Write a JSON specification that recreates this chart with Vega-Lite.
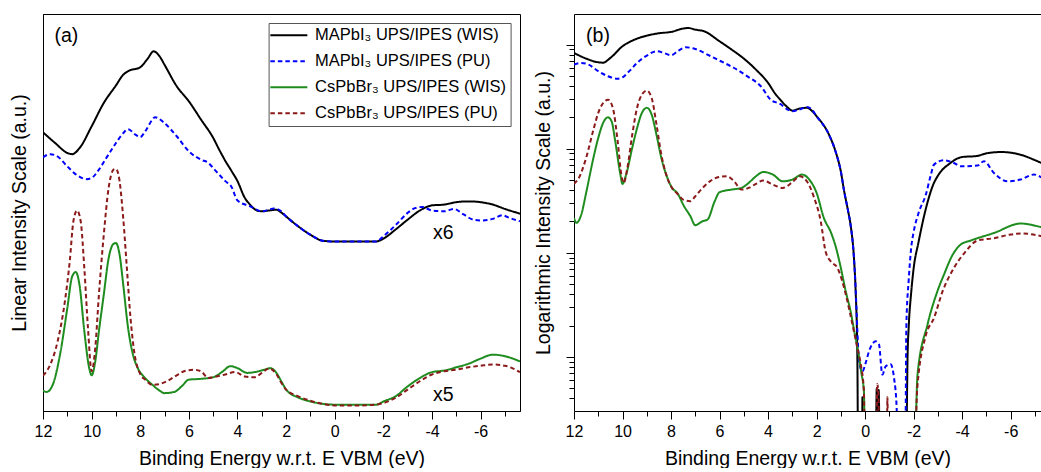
{
  "$schema": "https://vega.github.io/schema/vega-lite/v6.json",
  "padding": {"left": 8, "top": 13, "right": 0, "bottom": 0},
  "background": "white",
  "spacing": 12,
  "config": {
    "font": "Liberation Sans",
    "view": {"stroke": "black", "strokeWidth": 1},
    "axis": {"domainColor": "black", "tickColor": "black", "labelColor": "black", "titleColor": "black", "labelFontSize": 16, "titleFontSize": 19.5, "titleFontWeight": "normal", "grid": false, "labelFont": "Liberation Sans", "titleFont": "Liberation Sans"},
    "legend": {"orient": "none", "legendX": 225.6, "legendY": 9, "title": null, "symbolType": "M-3,0H3", "symbolSize": 152, "symbolStrokeWidth": 2, "labelFontSize": 16.5, "labelLimit": 400, "labelOffset": 18, "symbolOffset": 8, "padding": 4, "rowPadding": 9, "strokeColor": "#555555", "fillColor": "white", "labelColor": "black", "labelFont": "Liberation Sans"},
    "text": {"font": "Liberation Sans"}
  },
  "resolve": {"scale": {"color": "independent", "strokeDash": "independent", "x": "independent", "y": "independent"}, "legend": {"color": "independent", "strokeDash": "independent"}},
  "datasets": {
    "labA": [{"t": "(a)", "e": 11.04, "v": 92.9}, {"t": "x6", "e": -4.47, "v": 43.2}, {"t": "x5", "e": -4.47, "v": 2.44}],
    "labB": [{"t": "(b)", "e": 11.01, "v": 1069}],
    "lin": [
      {"s":"MAPbI₃ UPS/IPES (WIS)","e":12,"v":70.2},{"s":"MAPbI₃ UPS/IPES (WIS)","e":11.5,"v":67.5},{"s":"MAPbI₃ UPS/IPES (WIS)","e":11,"v":65.0},{"s":"MAPbI₃ UPS/IPES (WIS)","e":10.8,"v":64.7},{"s":"MAPbI₃ UPS/IPES (WIS)","e":10.5,"v":66.2},{"s":"MAPbI₃ UPS/IPES (WIS)","e":10,"v":71.7},{"s":"MAPbI₃ UPS/IPES (WIS)","e":9.5,"v":77.6},{"s":"MAPbI₃ UPS/IPES (WIS)","e":9,"v":82.0},{"s":"MAPbI₃ UPS/IPES (WIS)","e":8.7,"v":84.7},{"s":"MAPbI₃ UPS/IPES (WIS)","e":8.5,"v":85.6},{"s":"MAPbI₃ UPS/IPES (WIS)","e":8,"v":86.6},{"s":"MAPbI₃ UPS/IPES (WIS)","e":7.7,"v":88.7},{"s":"MAPbI₃ UPS/IPES (WIS)","e":7.45,"v":90.6},{"s":"MAPbI₃ UPS/IPES (WIS)","e":7.2,"v":89.3},{"s":"MAPbI₃ UPS/IPES (WIS)","e":7,"v":87.2},{"s":"MAPbI₃ UPS/IPES (WIS)","e":6.5,"v":81.8},{"s":"MAPbI₃ UPS/IPES (WIS)","e":6,"v":78.0},{"s":"MAPbI₃ UPS/IPES (WIS)","e":5.5,"v":73.4},{"s":"MAPbI₃ UPS/IPES (WIS)","e":5,"v":68.8},{"s":"MAPbI₃ UPS/IPES (WIS)","e":4.75,"v":65.8},{"s":"MAPbI₃ UPS/IPES (WIS)","e":4.5,"v":63.0},{"s":"MAPbI₃ UPS/IPES (WIS)","e":4.25,"v":60.5},{"s":"MAPbI₃ UPS/IPES (WIS)","e":4,"v":57.9},{"s":"MAPbI₃ UPS/IPES (WIS)","e":3.7,"v":53.7},{"s":"MAPbI₃ UPS/IPES (WIS)","e":3.5,"v":52.1},{"s":"MAPbI₃ UPS/IPES (WIS)","e":3.2,"v":50.5},{"s":"MAPbI₃ UPS/IPES (WIS)","e":3,"v":50.3},{"s":"MAPbI₃ UPS/IPES (WIS)","e":2.7,"v":50.5},{"s":"MAPbI₃ UPS/IPES (WIS)","e":2.4,"v":50.7},{"s":"MAPbI₃ UPS/IPES (WIS)","e":2.2,"v":50.0},{"s":"MAPbI₃ UPS/IPES (WIS)","e":2,"v":49.0},{"s":"MAPbI₃ UPS/IPES (WIS)","e":1.5,"v":46.5},{"s":"MAPbI₃ UPS/IPES (WIS)","e":1,"v":44.4},{"s":"MAPbI₃ UPS/IPES (WIS)","e":0.5,"v":42.9},{"s":"MAPbI₃ UPS/IPES (WIS)","e":0,"v":42.7},{"s":"MAPbI₃ UPS/IPES (WIS)","e":-1,"v":42.7},{"s":"MAPbI₃ UPS/IPES (WIS)","e":-1.7,"v":42.7},{"s":"MAPbI₃ UPS/IPES (WIS)","e":-2,"v":43.4},{"s":"MAPbI₃ UPS/IPES (WIS)","e":-2.5,"v":45.7},{"s":"MAPbI₃ UPS/IPES (WIS)","e":-3,"v":48.2},{"s":"MAPbI₃ UPS/IPES (WIS)","e":-3.5,"v":50.5},{"s":"MAPbI₃ UPS/IPES (WIS)","e":-4,"v":51.8},{"s":"MAPbI₃ UPS/IPES (WIS)","e":-4.5,"v":52.0},{"s":"MAPbI₃ UPS/IPES (WIS)","e":-5,"v":52.6},{"s":"MAPbI₃ UPS/IPES (WIS)","e":-5.5,"v":52.8},{"s":"MAPbI₃ UPS/IPES (WIS)","e":-6,"v":52.6},{"s":"MAPbI₃ UPS/IPES (WIS)","e":-6.5,"v":52.0},{"s":"MAPbI₃ UPS/IPES (WIS)","e":-7,"v":50.9},{"s":"MAPbI₃ UPS/IPES (WIS)","e":-7.62,"v":49.7},
      {"s":"MAPbI₃ UPS/IPES (PU)","e":12,"v":63.9},{"s":"MAPbI₃ UPS/IPES (PU)","e":11.7,"v":64.7},{"s":"MAPbI₃ UPS/IPES (PU)","e":11.4,"v":64.1},{"s":"MAPbI₃ UPS/IPES (PU)","e":11,"v":61.6},{"s":"MAPbI₃ UPS/IPES (PU)","e":10.6,"v":59.4},{"s":"MAPbI₃ UPS/IPES (PU)","e":10.2,"v":58.4},{"s":"MAPbI₃ UPS/IPES (PU)","e":10,"v":58.7},{"s":"MAPbI₃ UPS/IPES (PU)","e":9.7,"v":60.8},{"s":"MAPbI₃ UPS/IPES (PU)","e":9.4,"v":63.7},{"s":"MAPbI₃ UPS/IPES (PU)","e":9,"v":67.5},{"s":"MAPbI₃ UPS/IPES (PU)","e":8.7,"v":70.0},{"s":"MAPbI₃ UPS/IPES (PU)","e":8.5,"v":71.0},{"s":"MAPbI₃ UPS/IPES (PU)","e":8.2,"v":69.6},{"s":"MAPbI₃ UPS/IPES (PU)","e":8,"v":69.0},{"s":"MAPbI₃ UPS/IPES (PU)","e":7.8,"v":70.4},{"s":"MAPbI₃ UPS/IPES (PU)","e":7.5,"v":73.4},{"s":"MAPbI₃ UPS/IPES (PU)","e":7.4,"v":74.0},{"s":"MAPbI₃ UPS/IPES (PU)","e":7,"v":72.5},{"s":"MAPbI₃ UPS/IPES (PU)","e":6.5,"v":69.2},{"s":"MAPbI₃ UPS/IPES (PU)","e":6,"v":65.4},{"s":"MAPbI₃ UPS/IPES (PU)","e":5.5,"v":63.3},{"s":"MAPbI₃ UPS/IPES (PU)","e":5.2,"v":62.5},{"s":"MAPbI₃ UPS/IPES (PU)","e":5,"v":61.2},{"s":"MAPbI₃ UPS/IPES (PU)","e":4.5,"v":57.9},{"s":"MAPbI₃ UPS/IPES (PU)","e":4.25,"v":56.5},{"s":"MAPbI₃ UPS/IPES (PU)","e":4,"v":53.0},{"s":"MAPbI₃ UPS/IPES (PU)","e":3.5,"v":51.6},{"s":"MAPbI₃ UPS/IPES (PU)","e":3,"v":50.3},{"s":"MAPbI₃ UPS/IPES (PU)","e":2.5,"v":51.0},{"s":"MAPbI₃ UPS/IPES (PU)","e":2.2,"v":50.3},{"s":"MAPbI₃ UPS/IPES (PU)","e":2,"v":49.0},{"s":"MAPbI₃ UPS/IPES (PU)","e":1.5,"v":46.5},{"s":"MAPbI₃ UPS/IPES (PU)","e":1,"v":44.4},{"s":"MAPbI₃ UPS/IPES (PU)","e":0.5,"v":42.9},{"s":"MAPbI₃ UPS/IPES (PU)","e":0,"v":42.7},{"s":"MAPbI₃ UPS/IPES (PU)","e":-1,"v":42.7},{"s":"MAPbI₃ UPS/IPES (PU)","e":-1.7,"v":42.7},{"s":"MAPbI₃ UPS/IPES (PU)","e":-2,"v":44.0},{"s":"MAPbI₃ UPS/IPES (PU)","e":-2.5,"v":46.8},{"s":"MAPbI₃ UPS/IPES (PU)","e":-3,"v":49.9},{"s":"MAPbI₃ UPS/IPES (PU)","e":-3.3,"v":51.1},{"s":"MAPbI₃ UPS/IPES (PU)","e":-3.6,"v":51.4},{"s":"MAPbI₃ UPS/IPES (PU)","e":-4,"v":50.5},{"s":"MAPbI₃ UPS/IPES (PU)","e":-4.5,"v":50.3},{"s":"MAPbI₃ UPS/IPES (PU)","e":-4.9,"v":50.9},{"s":"MAPbI₃ UPS/IPES (PU)","e":-5.3,"v":49.5},{"s":"MAPbI₃ UPS/IPES (PU)","e":-5.7,"v":48.2},{"s":"MAPbI₃ UPS/IPES (PU)","e":-6,"v":48.0},{"s":"MAPbI₃ UPS/IPES (PU)","e":-6.5,"v":48.4},{"s":"MAPbI₃ UPS/IPES (PU)","e":-6.9,"v":49.3},{"s":"MAPbI₃ UPS/IPES (PU)","e":-7.2,"v":48.6},{"s":"MAPbI₃ UPS/IPES (PU)","e":-7.62,"v":47.8},
      {"s":"CsPbBr₃ UPS/IPES (WIS)","e":12,"v":5.1},{"s":"CsPbBr₃ UPS/IPES (WIS)","e":11.85,"v":4.8},{"s":"CsPbBr₃ UPS/IPES (WIS)","e":11.6,"v":6.6},{"s":"CsPbBr₃ UPS/IPES (WIS)","e":11.3,"v":14.2},{"s":"CsPbBr₃ UPS/IPES (WIS)","e":11,"v":25.9},{"s":"CsPbBr₃ UPS/IPES (WIS)","e":10.8,"v":33.9},{"s":"CsPbBr₃ UPS/IPES (WIS)","e":10.65,"v":35.0},{"s":"CsPbBr₃ UPS/IPES (WIS)","e":10.5,"v":31.8},{"s":"CsPbBr₃ UPS/IPES (WIS)","e":10.3,"v":20.1},{"s":"CsPbBr₃ UPS/IPES (WIS)","e":10.1,"v":10.8},{"s":"CsPbBr₃ UPS/IPES (WIS)","e":10,"v":9.0},{"s":"CsPbBr₃ UPS/IPES (WIS)","e":9.85,"v":12.5},{"s":"CsPbBr₃ UPS/IPES (WIS)","e":9.7,"v":20.1},{"s":"CsPbBr₃ UPS/IPES (WIS)","e":9.5,"v":29.3},{"s":"CsPbBr₃ UPS/IPES (WIS)","e":9.3,"v":38.5},{"s":"CsPbBr₃ UPS/IPES (WIS)","e":9.1,"v":42.1},{"s":"CsPbBr₃ UPS/IPES (WIS)","e":9,"v":42.3},{"s":"CsPbBr₃ UPS/IPES (WIS)","e":8.85,"v":39.4},{"s":"CsPbBr₃ UPS/IPES (WIS)","e":8.7,"v":31.8},{"s":"CsPbBr₃ UPS/IPES (WIS)","e":8.5,"v":20.9},{"s":"CsPbBr₃ UPS/IPES (WIS)","e":8.3,"v":14.2},{"s":"CsPbBr₃ UPS/IPES (WIS)","e":8.1,"v":10.8},{"s":"CsPbBr₃ UPS/IPES (WIS)","e":7.8,"v":8.3},{"s":"CsPbBr₃ UPS/IPES (WIS)","e":7.5,"v":6.6},{"s":"CsPbBr₃ UPS/IPES (WIS)","e":7.2,"v":5.1},{"s":"CsPbBr₃ UPS/IPES (WIS)","e":7,"v":4.5},{"s":"CsPbBr₃ UPS/IPES (WIS)","e":6.6,"v":4.8},{"s":"CsPbBr₃ UPS/IPES (WIS)","e":6.3,"v":6.2},{"s":"CsPbBr₃ UPS/IPES (WIS)","e":6,"v":7.9},{"s":"CsPbBr₃ UPS/IPES (WIS)","e":5.5,"v":8.1},{"s":"CsPbBr₃ UPS/IPES (WIS)","e":5,"v":8.5},{"s":"CsPbBr₃ UPS/IPES (WIS)","e":4.6,"v":10.0},{"s":"CsPbBr₃ UPS/IPES (WIS)","e":4.3,"v":11.3},{"s":"CsPbBr₃ UPS/IPES (WIS)","e":4,"v":10.8},{"s":"CsPbBr₃ UPS/IPES (WIS)","e":3.6,"v":9.6},{"s":"CsPbBr₃ UPS/IPES (WIS)","e":3.3,"v":9.8},{"s":"CsPbBr₃ UPS/IPES (WIS)","e":2.9,"v":10.4},{"s":"CsPbBr₃ UPS/IPES (WIS)","e":2.65,"v":10.8},{"s":"CsPbBr₃ UPS/IPES (WIS)","e":2.4,"v":9.6},{"s":"CsPbBr₃ UPS/IPES (WIS)","e":2.2,"v":7.5},{"s":"CsPbBr₃ UPS/IPES (WIS)","e":2,"v":5.4},{"s":"CsPbBr₃ UPS/IPES (WIS)","e":1.5,"v":3.4},{"s":"CsPbBr₃ UPS/IPES (WIS)","e":1,"v":2.4},{"s":"CsPbBr₃ UPS/IPES (WIS)","e":0.5,"v":1.8},{"s":"CsPbBr₃ UPS/IPES (WIS)","e":0,"v":1.6},{"s":"CsPbBr₃ UPS/IPES (WIS)","e":-1,"v":1.6},{"s":"CsPbBr₃ UPS/IPES (WIS)","e":-1.7,"v":1.6},{"s":"CsPbBr₃ UPS/IPES (WIS)","e":-2,"v":2.4},{"s":"CsPbBr₃ UPS/IPES (WIS)","e":-2.5,"v":3.7},{"s":"CsPbBr₃ UPS/IPES (WIS)","e":-3,"v":6.2},{"s":"CsPbBr₃ UPS/IPES (WIS)","e":-3.5,"v":8.3},{"s":"CsPbBr₃ UPS/IPES (WIS)","e":-4,"v":9.8},{"s":"CsPbBr₃ UPS/IPES (WIS)","e":-4.5,"v":10.2},{"s":"CsPbBr₃ UPS/IPES (WIS)","e":-5,"v":11.0},{"s":"CsPbBr₃ UPS/IPES (WIS)","e":-5.5,"v":11.9},{"s":"CsPbBr₃ UPS/IPES (WIS)","e":-6,"v":13.2},{"s":"CsPbBr₃ UPS/IPES (WIS)","e":-6.5,"v":14.2},{"s":"CsPbBr₃ UPS/IPES (WIS)","e":-7,"v":13.8},{"s":"CsPbBr₃ UPS/IPES (WIS)","e":-7.62,"v":12.5},
      {"s":"CsPbBr₃ UPS/IPES (PU)","e":12,"v":8.9},{"s":"CsPbBr₃ UPS/IPES (PU)","e":11.7,"v":11.7},{"s":"CsPbBr₃ UPS/IPES (PU)","e":11.4,"v":17.5},{"s":"CsPbBr₃ UPS/IPES (PU)","e":11.1,"v":27.6},{"s":"CsPbBr₃ UPS/IPES (PU)","e":10.9,"v":37.7},{"s":"CsPbBr₃ UPS/IPES (PU)","e":10.75,"v":47.8},{"s":"CsPbBr₃ UPS/IPES (PU)","e":10.6,"v":50.5},{"s":"CsPbBr₃ UPS/IPES (PU)","e":10.45,"v":47.8},{"s":"CsPbBr₃ UPS/IPES (PU)","e":10.3,"v":36.0},{"s":"CsPbBr₃ UPS/IPES (PU)","e":10.15,"v":20.9},{"s":"CsPbBr₃ UPS/IPES (PU)","e":10,"v":10.0},{"s":"CsPbBr₃ UPS/IPES (PU)","e":9.85,"v":15.9},{"s":"CsPbBr₃ UPS/IPES (PU)","e":9.7,"v":29.3},{"s":"CsPbBr₃ UPS/IPES (PU)","e":9.5,"v":44.4},{"s":"CsPbBr₃ UPS/IPES (PU)","e":9.3,"v":56.2},{"s":"CsPbBr₃ UPS/IPES (PU)","e":9.1,"v":60.8},{"s":"CsPbBr₃ UPS/IPES (PU)","e":9,"v":61.0},{"s":"CsPbBr₃ UPS/IPES (PU)","e":8.85,"v":57.9},{"s":"CsPbBr₃ UPS/IPES (PU)","e":8.7,"v":48.6},{"s":"CsPbBr₃ UPS/IPES (PU)","e":8.55,"v":36.0},{"s":"CsPbBr₃ UPS/IPES (PU)","e":8.4,"v":23.4},{"s":"CsPbBr₃ UPS/IPES (PU)","e":8.25,"v":15.0},{"s":"CsPbBr₃ UPS/IPES (PU)","e":8,"v":9.3},{"s":"CsPbBr₃ UPS/IPES (PU)","e":7.8,"v":7.9},{"s":"CsPbBr₃ UPS/IPES (PU)","e":7.5,"v":6.6},{"s":"CsPbBr₃ UPS/IPES (PU)","e":7.2,"v":6.8},{"s":"CsPbBr₃ UPS/IPES (PU)","e":6.9,"v":7.5},{"s":"CsPbBr₃ UPS/IPES (PU)","e":6.5,"v":9.0},{"s":"CsPbBr₃ UPS/IPES (PU)","e":6.2,"v":10.0},{"s":"CsPbBr₃ UPS/IPES (PU)","e":5.8,"v":10.4},{"s":"CsPbBr₃ UPS/IPES (PU)","e":5.5,"v":10.0},{"s":"CsPbBr₃ UPS/IPES (PU)","e":5.2,"v":8.3},{"s":"CsPbBr₃ UPS/IPES (PU)","e":5,"v":8.5},{"s":"CsPbBr₃ UPS/IPES (PU)","e":4.5,"v":9.2},{"s":"CsPbBr₃ UPS/IPES (PU)","e":4.1,"v":9.8},{"s":"CsPbBr₃ UPS/IPES (PU)","e":3.7,"v":8.7},{"s":"CsPbBr₃ UPS/IPES (PU)","e":3.3,"v":8.5},{"s":"CsPbBr₃ UPS/IPES (PU)","e":3,"v":9.6},{"s":"CsPbBr₃ UPS/IPES (PU)","e":2.7,"v":10.7},{"s":"CsPbBr₃ UPS/IPES (PU)","e":2.4,"v":9.3},{"s":"CsPbBr₃ UPS/IPES (PU)","e":2.2,"v":7.1},{"s":"CsPbBr₃ UPS/IPES (PU)","e":2,"v":5.4},{"s":"CsPbBr₃ UPS/IPES (PU)","e":1.5,"v":3.7},{"s":"CsPbBr₃ UPS/IPES (PU)","e":1,"v":2.6},{"s":"CsPbBr₃ UPS/IPES (PU)","e":0.5,"v":1.8},{"s":"CsPbBr₃ UPS/IPES (PU)","e":0,"v":1.4},{"s":"CsPbBr₃ UPS/IPES (PU)","e":-1,"v":1.4},{"s":"CsPbBr₃ UPS/IPES (PU)","e":-1.7,"v":1.6},{"s":"CsPbBr₃ UPS/IPES (PU)","e":-2,"v":2.0},{"s":"CsPbBr₃ UPS/IPES (PU)","e":-2.5,"v":3.3},{"s":"CsPbBr₃ UPS/IPES (PU)","e":-3,"v":5.4},{"s":"CsPbBr₃ UPS/IPES (PU)","e":-3.5,"v":7.5},{"s":"CsPbBr₃ UPS/IPES (PU)","e":-4,"v":9.2},{"s":"CsPbBr₃ UPS/IPES (PU)","e":-4.5,"v":10.0},{"s":"CsPbBr₃ UPS/IPES (PU)","e":-5,"v":10.4},{"s":"CsPbBr₃ UPS/IPES (PU)","e":-5.5,"v":11.0},{"s":"CsPbBr₃ UPS/IPES (PU)","e":-6,"v":11.4},{"s":"CsPbBr₃ UPS/IPES (PU)","e":-6.5,"v":11.7},{"s":"CsPbBr₃ UPS/IPES (PU)","e":-7,"v":11.4},{"s":"CsPbBr₃ UPS/IPES (PU)","e":-7.3,"v":10.8},{"s":"CsPbBr₃ UPS/IPES (PU)","e":-7.62,"v":9.8}
    ],
    "log": [
      {"s":"MAPbI₃ UPS/IPES (WIS)","e":12,"v":832},{"s":"MAPbI₃ UPS/IPES (WIS)","e":11.5,"v":734},{"s":"MAPbI₃ UPS/IPES (WIS)","e":11,"v":676},{"s":"MAPbI₃ UPS/IPES (WIS)","e":10.8,"v":671},{"s":"MAPbI₃ UPS/IPES (WIS)","e":10.5,"v":745},{"s":"MAPbI₃ UPS/IPES (WIS)","e":10,"v":964},{"s":"MAPbI₃ UPS/IPES (WIS)","e":9.5,"v":1117},{"s":"MAPbI₃ UPS/IPES (WIS)","e":9,"v":1219},{"s":"MAPbI₃ UPS/IPES (WIS)","e":8.5,"v":1285},{"s":"MAPbI₃ UPS/IPES (WIS)","e":8,"v":1324},{"s":"MAPbI₃ UPS/IPES (WIS)","e":7.5,"v":1426},{"s":"MAPbI₃ UPS/IPES (WIS)","e":7.3,"v":1445},{"s":"MAPbI₃ UPS/IPES (WIS)","e":7,"v":1393},{"s":"MAPbI₃ UPS/IPES (WIS)","e":6.64,"v":1343},{"s":"MAPbI₃ UPS/IPES (WIS)","e":6,"v":1076},{"s":"MAPbI₃ UPS/IPES (WIS)","e":5.5,"v":895},{"s":"MAPbI₃ UPS/IPES (WIS)","e":5,"v":734},{"s":"MAPbI₃ UPS/IPES (WIS)","e":4.5,"v":575},{"s":"MAPbI₃ UPS/IPES (WIS)","e":4,"v":429},{"s":"MAPbI₃ UPS/IPES (WIS)","e":3.7,"v":336},{"s":"MAPbI₃ UPS/IPES (WIS)","e":3.5,"v":296},{"s":"MAPbI₃ UPS/IPES (WIS)","e":3.2,"v":250},{"s":"MAPbI₃ UPS/IPES (WIS)","e":3,"v":232},{"s":"MAPbI₃ UPS/IPES (WIS)","e":2.7,"v":243},{"s":"MAPbI₃ UPS/IPES (WIS)","e":2.4,"v":247},{"s":"MAPbI₃ UPS/IPES (WIS)","e":2.2,"v":232},{"s":"MAPbI₃ UPS/IPES (WIS)","e":2,"v":205},{"s":"MAPbI₃ UPS/IPES (WIS)","e":1.5,"v":138},{"s":"MAPbI₃ UPS/IPES (WIS)","e":1.2,"v":91.2},{"s":"MAPbI₃ UPS/IPES (WIS)","e":1,"v":60.3},{"s":"MAPbI₃ UPS/IPES (WIS)","e":0.87,"v":39.8},{"s":"MAPbI₃ UPS/IPES (WIS)","e":0.7,"v":25.1},{"s":"MAPbI₃ UPS/IPES (WIS)","e":0.6,"v":18.6},{"s":"MAPbI₃ UPS/IPES (WIS)","e":0.46,"v":8.91},{"s":"MAPbI₃ UPS/IPES (WIS)","e":0.39,"v":4.27},{"s":"MAPbI₃ UPS/IPES (WIS)","e":0.32,"v":1.0},{"s":"MAPbI₃ UPS/IPES (WIS)","e":0.28,"v":0.05},{"s":"MAPbI₃ UPS/IPES (WIS)","e":0.13,"v":0.05},{"s":"MAPbI₃ UPS/IPES (WIS)","e":0.11,"v":0.41},{"s":"MAPbI₃ UPS/IPES (WIS)","e":0.09,"v":0.05},{"s":"MAPbI₃ UPS/IPES (WIS)","e":-0.42,"v":0.05},{"s":"MAPbI₃ UPS/IPES (WIS)","e":-0.48,"v":0.5},{"s":"MAPbI₃ UPS/IPES (WIS)","e":-0.52,"v":0.3},{"s":"MAPbI₃ UPS/IPES (WIS)","e":-0.56,"v":0.48},{"s":"MAPbI₃ UPS/IPES (WIS)","e":-0.62,"v":0.05},{"s":"MAPbI₃ UPS/IPES (WIS)","e":-1.68,"v":0.05},{"s":"MAPbI₃ UPS/IPES (WIS)","e":-1.72,"v":0.3},{"s":"MAPbI₃ UPS/IPES (WIS)","e":-1.75,"v":1.0},{"s":"MAPbI₃ UPS/IPES (WIS)","e":-1.8,"v":2.0},{"s":"MAPbI₃ UPS/IPES (WIS)","e":-1.9,"v":4.17},{"s":"MAPbI₃ UPS/IPES (WIS)","e":-2,"v":7.08},{"s":"MAPbI₃ UPS/IPES (WIS)","e":-2.2,"v":12.6},{"s":"MAPbI₃ UPS/IPES (WIS)","e":-2.5,"v":26.3},{"s":"MAPbI₃ UPS/IPES (WIS)","e":-2.8,"v":44.7},{"s":"MAPbI₃ UPS/IPES (WIS)","e":-3,"v":55.0},{"s":"MAPbI₃ UPS/IPES (WIS)","e":-3.5,"v":72.4},{"s":"MAPbI₃ UPS/IPES (WIS)","e":-4,"v":83.2},{"s":"MAPbI₃ UPS/IPES (WIS)","e":-4.6,"v":85.1},{"s":"MAPbI₃ UPS/IPES (WIS)","e":-5,"v":90.2},{"s":"MAPbI₃ UPS/IPES (WIS)","e":-5.6,"v":92.9},{"s":"MAPbI₃ UPS/IPES (WIS)","e":-6.4,"v":87.7},{"s":"MAPbI₃ UPS/IPES (WIS)","e":-7,"v":77.6},{"s":"MAPbI₃ UPS/IPES (WIS)","e":-7.3,"v":72.4},
      {"s":"MAPbI₃ UPS/IPES (PU)","e":12,"v":643},{"s":"MAPbI₃ UPS/IPES (PU)","e":11.7,"v":667},{"s":"MAPbI₃ UPS/IPES (PU)","e":11.4,"v":643},{"s":"MAPbI₃ UPS/IPES (PU)","e":11,"v":555},{"s":"MAPbI₃ UPS/IPES (PU)","e":10.6,"v":497},{"s":"MAPbI₃ UPS/IPES (PU)","e":10.2,"v":471},{"s":"MAPbI₃ UPS/IPES (PU)","e":10,"v":485},{"s":"MAPbI₃ UPS/IPES (PU)","e":9.7,"v":562},{"s":"MAPbI₃ UPS/IPES (PU)","e":9.4,"v":667},{"s":"MAPbI₃ UPS/IPES (PU)","e":9,"v":783},{"s":"MAPbI₃ UPS/IPES (PU)","e":8.6,"v":863},{"s":"MAPbI₃ UPS/IPES (PU)","e":8.3,"v":832},{"s":"MAPbI₃ UPS/IPES (PU)","e":8,"v":791},{"s":"MAPbI₃ UPS/IPES (PU)","e":7.7,"v":875},{"s":"MAPbI₃ UPS/IPES (PU)","e":7.4,"v":942},{"s":"MAPbI₃ UPS/IPES (PU)","e":7,"v":908},{"s":"MAPbI₃ UPS/IPES (PU)","e":6.5,"v":802},{"s":"MAPbI₃ UPS/IPES (PU)","e":6,"v":701},{"s":"MAPbI₃ UPS/IPES (PU)","e":5.4,"v":596},{"s":"MAPbI₃ UPS/IPES (PU)","e":4.85,"v":495},{"s":"MAPbI₃ UPS/IPES (PU)","e":4.3,"v":398},{"s":"MAPbI₃ UPS/IPES (PU)","e":3.89,"v":295},{"s":"MAPbI₃ UPS/IPES (PU)","e":3.5,"v":269},{"s":"MAPbI₃ UPS/IPES (PU)","e":3.2,"v":238},{"s":"MAPbI₃ UPS/IPES (PU)","e":3,"v":229},{"s":"MAPbI₃ UPS/IPES (PU)","e":2.7,"v":238},{"s":"MAPbI₃ UPS/IPES (PU)","e":2.4,"v":251},{"s":"MAPbI₃ UPS/IPES (PU)","e":2.2,"v":238},{"s":"MAPbI₃ UPS/IPES (PU)","e":2,"v":205},{"s":"MAPbI₃ UPS/IPES (PU)","e":1.5,"v":138},{"s":"MAPbI₃ UPS/IPES (PU)","e":1.2,"v":91.2},{"s":"MAPbI₃ UPS/IPES (PU)","e":1,"v":60.3},{"s":"MAPbI₃ UPS/IPES (PU)","e":0.87,"v":39.8},{"s":"MAPbI₃ UPS/IPES (PU)","e":0.7,"v":25.1},{"s":"MAPbI₃ UPS/IPES (PU)","e":0.6,"v":18.6},{"s":"MAPbI₃ UPS/IPES (PU)","e":0.46,"v":8.91},{"s":"MAPbI₃ UPS/IPES (PU)","e":0.39,"v":4.5},{"s":"MAPbI₃ UPS/IPES (PU)","e":0.32,"v":1.8},{"s":"MAPbI₃ UPS/IPES (PU)","e":0.25,"v":0.912},{"s":"MAPbI₃ UPS/IPES (PU)","e":0.11,"v":0.724},{"s":"MAPbI₃ UPS/IPES (PU)","e":-0.02,"v":0.871},{"s":"MAPbI₃ UPS/IPES (PU)","e":-0.16,"v":1.13},{"s":"MAPbI₃ UPS/IPES (PU)","e":-0.44,"v":1.41},{"s":"MAPbI₃ UPS/IPES (PU)","e":-0.57,"v":1.32},{"s":"MAPbI₃ UPS/IPES (PU)","e":-0.71,"v":0.676},{"s":"MAPbI₃ UPS/IPES (PU)","e":-0.85,"v":0.813},{"s":"MAPbI₃ UPS/IPES (PU)","e":-1.05,"v":0.851},{"s":"MAPbI₃ UPS/IPES (PU)","e":-1.19,"v":0.631},{"s":"MAPbI₃ UPS/IPES (PU)","e":-1.3,"v":0.324},{"s":"MAPbI₃ UPS/IPES (PU)","e":-1.36,"v":0.05},{"s":"MAPbI₃ UPS/IPES (PU)","e":-1.62,"v":0.05},{"s":"MAPbI₃ UPS/IPES (PU)","e":-1.67,"v":0.25},{"s":"MAPbI₃ UPS/IPES (PU)","e":-1.7,"v":2.0},{"s":"MAPbI₃ UPS/IPES (PU)","e":-1.8,"v":5.62},{"s":"MAPbI₃ UPS/IPES (PU)","e":-1.9,"v":11.2},{"s":"MAPbI₃ UPS/IPES (PU)","e":-2,"v":15.8},{"s":"MAPbI₃ UPS/IPES (PU)","e":-2.2,"v":24.0},{"s":"MAPbI₃ UPS/IPES (PU)","e":-2.5,"v":36},{"s":"MAPbI₃ UPS/IPES (PU)","e":-2.7,"v":55},{"s":"MAPbI₃ UPS/IPES (PU)","e":-2.84,"v":70.3},{"s":"MAPbI₃ UPS/IPES (PU)","e":-3.25,"v":77.4},{"s":"MAPbI₃ UPS/IPES (PU)","e":-3.66,"v":72.9},{"s":"MAPbI₃ UPS/IPES (PU)","e":-3.94,"v":67.8},{"s":"MAPbI₃ UPS/IPES (PU)","e":-4.63,"v":68.9},{"s":"MAPbI₃ UPS/IPES (PU)","e":-4.9,"v":75.7},{"s":"MAPbI₃ UPS/IPES (PU)","e":-5.31,"v":58.5},{"s":"MAPbI₃ UPS/IPES (PU)","e":-5.86,"v":48.6},{"s":"MAPbI₃ UPS/IPES (PU)","e":-6.41,"v":50.5},{"s":"MAPbI₃ UPS/IPES (PU)","e":-6.96,"v":56.4},{"s":"MAPbI₃ UPS/IPES (PU)","e":-7.3,"v":52.4},
      {"s":"CsPbBr₃ UPS/IPES (WIS)","e":12,"v":21.6},{"s":"CsPbBr₃ UPS/IPES (WIS)","e":11.9,"v":19.4},{"s":"CsPbBr₃ UPS/IPES (WIS)","e":11.7,"v":23.3},{"s":"CsPbBr₃ UPS/IPES (WIS)","e":11.5,"v":37.6},{"s":"CsPbBr₃ UPS/IPES (WIS)","e":11.2,"v":81.5},{"s":"CsPbBr₃ UPS/IPES (WIS)","e":11,"v":127},{"s":"CsPbBr₃ UPS/IPES (WIS)","e":10.8,"v":177},{"s":"CsPbBr₃ UPS/IPES (WIS)","e":10.6,"v":200},{"s":"CsPbBr₃ UPS/IPES (WIS)","e":10.45,"v":183},{"s":"CsPbBr₃ UPS/IPES (WIS)","e":10.3,"v":118},{"s":"CsPbBr₃ UPS/IPES (WIS)","e":10.1,"v":58.5},{"s":"CsPbBr₃ UPS/IPES (WIS)","e":10,"v":45.9},{"s":"CsPbBr₃ UPS/IPES (WIS)","e":9.85,"v":56.4},{"s":"CsPbBr₃ UPS/IPES (WIS)","e":9.6,"v":102},{"s":"CsPbBr₃ UPS/IPES (WIS)","e":9.4,"v":158},{"s":"CsPbBr₃ UPS/IPES (WIS)","e":9.2,"v":221},{"s":"CsPbBr₃ UPS/IPES (WIS)","e":9,"v":247},{"s":"CsPbBr₃ UPS/IPES (WIS)","e":8.8,"v":213},{"s":"CsPbBr₃ UPS/IPES (WIS)","e":8.6,"v":136},{"s":"CsPbBr₃ UPS/IPES (WIS)","e":8.4,"v":81.5},{"s":"CsPbBr₃ UPS/IPES (WIS)","e":8.2,"v":56.4},{"s":"CsPbBr₃ UPS/IPES (WIS)","e":8,"v":43.6},{"s":"CsPbBr₃ UPS/IPES (WIS)","e":7.7,"v":36.2},{"s":"CsPbBr₃ UPS/IPES (WIS)","e":7.5,"v":29.0},{"s":"CsPbBr₃ UPS/IPES (WIS)","e":7.2,"v":22.4},{"s":"CsPbBr₃ UPS/IPES (WIS)","e":7,"v":18.4},{"s":"CsPbBr₃ UPS/IPES (WIS)","e":6.7,"v":20.1},{"s":"CsPbBr₃ UPS/IPES (WIS)","e":6.5,"v":20.8},{"s":"CsPbBr₃ UPS/IPES (WIS)","e":6.2,"v":31.3},{"s":"CsPbBr₃ UPS/IPES (WIS)","e":6,"v":38.2},{"s":"CsPbBr₃ UPS/IPES (WIS)","e":5.5,"v":40.5},{"s":"CsPbBr₃ UPS/IPES (WIS)","e":5.1,"v":42.0},{"s":"CsPbBr₃ UPS/IPES (WIS)","e":4.8,"v":46.9},{"s":"CsPbBr₃ UPS/IPES (WIS)","e":4.5,"v":54.3},{"s":"CsPbBr₃ UPS/IPES (WIS)","e":4.2,"v":59.8},{"s":"CsPbBr₃ UPS/IPES (WIS)","e":3.8,"v":56.4},{"s":"CsPbBr₃ UPS/IPES (WIS)","e":3.4,"v":48.6},{"s":"CsPbBr₃ UPS/IPES (WIS)","e":3,"v":50.5},{"s":"CsPbBr₃ UPS/IPES (WIS)","e":2.6,"v":56.4},{"s":"CsPbBr₃ UPS/IPES (WIS)","e":2.3,"v":50.5},{"s":"CsPbBr₃ UPS/IPES (WIS)","e":2,"v":37.6},{"s":"CsPbBr₃ UPS/IPES (WIS)","e":1.7,"v":21.6},{"s":"CsPbBr₃ UPS/IPES (WIS)","e":1.4,"v":15.5},{"s":"CsPbBr₃ UPS/IPES (WIS)","e":1.2,"v":11.2},{"s":"CsPbBr₃ UPS/IPES (WIS)","e":1,"v":7.14},{"s":"CsPbBr₃ UPS/IPES (WIS)","e":0.8,"v":4.27},{"s":"CsPbBr₃ UPS/IPES (WIS)","e":0.6,"v":2.75},{"s":"CsPbBr₃ UPS/IPES (WIS)","e":0.45,"v":1.78},{"s":"CsPbBr₃ UPS/IPES (WIS)","e":0.3,"v":1.17},{"s":"CsPbBr₃ UPS/IPES (WIS)","e":0.15,"v":0.692},{"s":"CsPbBr₃ UPS/IPES (WIS)","e":0.05,"v":0.468},{"s":"CsPbBr₃ UPS/IPES (WIS)","e":-0.02,"v":0.05},{"s":"CsPbBr₃ UPS/IPES (WIS)","e":-2,"v":0.05},{"s":"CsPbBr₃ UPS/IPES (WIS)","e":-2.16,"v":0.676},{"s":"CsPbBr₃ UPS/IPES (WIS)","e":-2.57,"v":2.04},{"s":"CsPbBr₃ UPS/IPES (WIS)","e":-2.98,"v":4.27},{"s":"CsPbBr₃ UPS/IPES (WIS)","e":-3.25,"v":6.17},{"s":"CsPbBr₃ UPS/IPES (WIS)","e":-3.6,"v":9.5},{"s":"CsPbBr₃ UPS/IPES (WIS)","e":-3.94,"v":12.0},{"s":"CsPbBr₃ UPS/IPES (WIS)","e":-4.35,"v":13.1},{"s":"CsPbBr₃ UPS/IPES (WIS)","e":-5.31,"v":15.5},{"s":"CsPbBr₃ UPS/IPES (WIS)","e":-6.41,"v":19.1},{"s":"CsPbBr₃ UPS/IPES (WIS)","e":-7.1,"v":18.0},{"s":"CsPbBr₃ UPS/IPES (WIS)","e":-7.3,"v":17.5},
      {"s":"CsPbBr₃ UPS/IPES (PU)","e":12,"v":45.9},{"s":"CsPbBr₃ UPS/IPES (PU)","e":11.8,"v":52.4},{"s":"CsPbBr₃ UPS/IPES (PU)","e":11.5,"v":81.5},{"s":"CsPbBr₃ UPS/IPES (PU)","e":11.2,"v":152},{"s":"CsPbBr₃ UPS/IPES (PU)","e":11,"v":221},{"s":"CsPbBr₃ UPS/IPES (PU)","e":10.7,"v":290},{"s":"CsPbBr₃ UPS/IPES (PU)","e":10.6,"v":296},{"s":"CsPbBr₃ UPS/IPES (PU)","e":10.4,"v":247},{"s":"CsPbBr₃ UPS/IPES (PU)","e":10.2,"v":118},{"s":"CsPbBr₃ UPS/IPES (PU)","e":10.05,"v":56.4},{"s":"CsPbBr₃ UPS/IPES (PU)","e":9.95,"v":46.9},{"s":"CsPbBr₃ UPS/IPES (PU)","e":9.8,"v":65.3},{"s":"CsPbBr₃ UPS/IPES (PU)","e":9.6,"v":136},{"s":"CsPbBr₃ UPS/IPES (PU)","e":9.4,"v":247},{"s":"CsPbBr₃ UPS/IPES (PU)","e":9.2,"v":331},{"s":"CsPbBr₃ UPS/IPES (PU)","e":9,"v":361},{"s":"CsPbBr₃ UPS/IPES (PU)","e":8.8,"v":308},{"s":"CsPbBr₃ UPS/IPES (PU)","e":8.6,"v":171},{"s":"CsPbBr₃ UPS/IPES (PU)","e":8.4,"v":87.7},{"s":"CsPbBr₃ UPS/IPES (PU)","e":8.2,"v":56.4},{"s":"CsPbBr₃ UPS/IPES (PU)","e":8,"v":43.6},{"s":"CsPbBr₃ UPS/IPES (PU)","e":7.7,"v":36.2},{"s":"CsPbBr₃ UPS/IPES (PU)","e":7.5,"v":32.4},{"s":"CsPbBr₃ UPS/IPES (PU)","e":7.2,"v":31.3},{"s":"CsPbBr₃ UPS/IPES (PU)","e":7,"v":34.9},{"s":"CsPbBr₃ UPS/IPES (PU)","e":6.7,"v":42.0},{"s":"CsPbBr₃ UPS/IPES (PU)","e":6.4,"v":48.6},{"s":"CsPbBr₃ UPS/IPES (PU)","e":6,"v":53.6},{"s":"CsPbBr₃ UPS/IPES (PU)","e":5.7,"v":54.3},{"s":"CsPbBr₃ UPS/IPES (PU)","e":5.4,"v":48.6},{"s":"CsPbBr₃ UPS/IPES (PU)","e":5.1,"v":40.5},{"s":"CsPbBr₃ UPS/IPES (PU)","e":4.8,"v":42.0},{"s":"CsPbBr₃ UPS/IPES (PU)","e":4.5,"v":45.9},{"s":"CsPbBr₃ UPS/IPES (PU)","e":4.2,"v":49.4},{"s":"CsPbBr₃ UPS/IPES (PU)","e":3.8,"v":45.2},{"s":"CsPbBr₃ UPS/IPES (PU)","e":3.4,"v":42.0},{"s":"CsPbBr₃ UPS/IPES (PU)","e":3,"v":47.6},{"s":"CsPbBr₃ UPS/IPES (PU)","e":2.7,"v":54.3},{"s":"CsPbBr₃ UPS/IPES (PU)","e":2.4,"v":48.6},{"s":"CsPbBr₃ UPS/IPES (PU)","e":2.1,"v":33.7},{"s":"CsPbBr₃ UPS/IPES (PU)","e":1.83,"v":20.1},{"s":"CsPbBr₃ UPS/IPES (PU)","e":1.63,"v":10.3},{"s":"CsPbBr₃ UPS/IPES (PU)","e":1.42,"v":8.28},{"s":"CsPbBr₃ UPS/IPES (PU)","e":1.14,"v":7.14},{"s":"CsPbBr₃ UPS/IPES (PU)","e":0.94,"v":5.32},{"s":"CsPbBr₃ UPS/IPES (PU)","e":0.73,"v":3.42},{"s":"CsPbBr₃ UPS/IPES (PU)","e":0.52,"v":2.04},{"s":"CsPbBr₃ UPS/IPES (PU)","e":0.32,"v":1.22},{"s":"CsPbBr₃ UPS/IPES (PU)","e":0.18,"v":0.851},{"s":"CsPbBr₃ UPS/IPES (PU)","e":0.05,"v":0.468},{"s":"CsPbBr₃ UPS/IPES (PU)","e":0,"v":0.05},{"s":"CsPbBr₃ UPS/IPES (PU)","e":-0.45,"v":0.05},{"s":"CsPbBr₃ UPS/IPES (PU)","e":-0.5,"v":0.55},{"s":"CsPbBr₃ UPS/IPES (PU)","e":-0.55,"v":0.42},{"s":"CsPbBr₃ UPS/IPES (PU)","e":-0.6,"v":0.05},{"s":"CsPbBr₃ UPS/IPES (PU)","e":-0.88,"v":0.05},{"s":"CsPbBr₃ UPS/IPES (PU)","e":-0.92,"v":0.41},{"s":"CsPbBr₃ UPS/IPES (PU)","e":-0.96,"v":0.05},{"s":"CsPbBr₃ UPS/IPES (PU)","e":-1.98,"v":0.05},{"s":"CsPbBr₃ UPS/IPES (PU)","e":-2.15,"v":0.5},{"s":"CsPbBr₃ UPS/IPES (PU)","e":-2.5,"v":1.6},{"s":"CsPbBr₃ UPS/IPES (PU)","e":-2.84,"v":2.37},{"s":"CsPbBr₃ UPS/IPES (PU)","e":-3.2,"v":4.3},{"s":"CsPbBr₃ UPS/IPES (PU)","e":-3.66,"v":7.14},{"s":"CsPbBr₃ UPS/IPES (PU)","e":-4.1,"v":10.0},{"s":"CsPbBr₃ UPS/IPES (PU)","e":-4.63,"v":13.1},{"s":"CsPbBr₃ UPS/IPES (PU)","e":-5.3,"v":13.8},{"s":"CsPbBr₃ UPS/IPES (PU)","e":-6,"v":15.0},{"s":"CsPbBr₃ UPS/IPES (PU)","e":-6.5,"v":15.3},{"s":"CsPbBr₃ UPS/IPES (PU)","e":-7.24,"v":14.5},{"s":"CsPbBr₃ UPS/IPES (PU)","e":-7.3,"v":14.4}
    ]
  },
  "hconcat": [
    {
      "width": 477,
      "height": 397,
      "layer": [
        {
          "data": {"name": "lin"},
          "mark": {"type": "line", "strokeWidth": 2, "clip": true, "interpolate": "monotone"},
          "encoding": {
            "x": {"field": "e", "type": "quantitative", "scale": {"domain": [12, -7.62], "nice": false, "zero": false},
              "axis": {"title": "Binding Energy w.r.t. E VBM (eV)", "values": [12,11,10,9,8,7,6,5,4,3,2,1,0,-1,-2,-3,-4,-5,-6,-7], "labelExpr": "datum.value % 2 == 0 ? '' + datum.value : ''", "tickSize": {"condition": {"test": "datum.value % 2 == 0", "value": 8}, "value": 5}, "labelPadding": 4, "titlePadding": 10, "labelFlush": false, "labelOverlap": false}},
            "y": {"field": "v", "type": "quantitative", "scale": {"domain": [0, 100], "nice": false, "zero": false},
              "axis": {"title": "Linear Intensity Scale (a.u.)", "labels": false, "ticks": false, "titlePadding": 14}},
            "color": {"field": "s", "type": "nominal", "scale": {"domain": ["MAPbI₃ UPS/IPES (WIS)", "MAPbI₃ UPS/IPES (PU)", "CsPbBr₃ UPS/IPES (WIS)", "CsPbBr₃ UPS/IPES (PU)"], "range": ["#000000", "#0000ff", "#1e8c1e", "#8b1a1a"]}, "legend": {"title": null}},
            "strokeDash": {"field": "s", "type": "nominal", "scale": {"domain": ["MAPbI₃ UPS/IPES (WIS)", "MAPbI₃ UPS/IPES (PU)", "CsPbBr₃ UPS/IPES (WIS)", "CsPbBr₃ UPS/IPES (PU)"], "range": [[1, 0], [4.5, 3], [1, 0], [4.5, 3]]}, "legend": {"title": null}}
          }
        },
        {
          "data": {"name": "labA"},
          "mark": {"type": "text", "fontSize": 19.5, "align": "center", "baseline": "alphabetic", "color": "black"},
          "encoding": {
            "x": {"field": "e", "type": "quantitative",
              "axis": {"title": "Binding Energy w.r.t. E VBM (eV)", "values": [12,11,10,9,8,7,6,5,4,3,2,1,0,-1,-2,-3,-4,-5,-6,-7], "labelExpr": "datum.value % 2 == 0 ? '' + datum.value : ''", "tickSize": {"condition": {"test": "datum.value % 2 == 0", "value": 8}, "value": 5}, "labelPadding": 4, "titlePadding": 10, "labelFlush": false, "labelOverlap": false}},
            "y": {"field": "v", "type": "quantitative",
              "axis": {"title": "Linear Intensity Scale (a.u.)", "labels": false, "ticks": false, "titlePadding": 14}},
            "text": {"field": "t"}
          }
        }
      ]
    },
    {
      "width": 467,
      "height": 397,
      "view": {"stroke": null},
      "layer": [
        {
          "data": {"name": "log"},
          "mark": {"type": "line", "strokeWidth": 2, "clip": true, "interpolate": "monotone"},
          "encoding": {
            "x": {"field": "e", "type": "quantitative", "scale": {"domain": [12, -7.25], "nice": false, "zero": false},
              "axis": {"title": "Binding Energy w.r.t. E VBM (eV)", "values": [12,11,10,9,8,7,6,5,4,3,2,1,0,-1,-2,-3,-4,-5,-6,-7], "labelExpr": "datum.value % 2 == 0 ? '' + datum.value : ''", "tickSize": {"condition": {"test": "datum.value % 2 == 0", "value": 8}, "value": 5}, "labelPadding": 4, "titlePadding": 10, "labelFlush": false, "labelOverlap": false}},
            "y": {"field": "v", "type": "quantitative", "scale": {"type": "log", "domain": [0.302, 1968], "nice": false},
              "axis": {"title": "Logarithmic Intensity Scale (a.u.)", "labels": false, "values": [0.4,0.5,0.6,0.7,0.8,0.9,1,2,3,4,5,6,7,8,9,10,20,30,40,50,60,70,80,90,100,200,300,400,500,600,700,800,900,1000], "tickSize": {"condition": {"test": "datum.value == 1 || datum.value == 10 || datum.value == 100 || datum.value == 1000", "value": 8}, "value": 5}, "titlePadding": 12}},
            "color": {"field": "s", "type": "nominal", "scale": {"domain": ["MAPbI₃ UPS/IPES (WIS)", "MAPbI₃ UPS/IPES (PU)", "CsPbBr₃ UPS/IPES (WIS)", "CsPbBr₃ UPS/IPES (PU)"], "range": ["#000000", "#0000ff", "#1e8c1e", "#8b1a1a"]}, "legend": null},
            "strokeDash": {"field": "s", "type": "nominal", "scale": {"domain": ["MAPbI₃ UPS/IPES (WIS)", "MAPbI₃ UPS/IPES (PU)", "CsPbBr₃ UPS/IPES (WIS)", "CsPbBr₃ UPS/IPES (PU)"], "range": [[1, 0], [4.5, 3], [1, 0], [4.5, 3]]}, "legend": null}
          }
        },
        {
          "data": {"name": "labB"},
          "mark": {"type": "text", "fontSize": 19.5, "align": "center", "baseline": "alphabetic", "color": "black"},
          "encoding": {
            "x": {"field": "e", "type": "quantitative", "axis": {"orient": "top", "ticks": false, "labels": false, "title": null, "domainColor": "black"}},
            "y": {"field": "v", "type": "quantitative",
              "axis": {"title": "Logarithmic Intensity Scale (a.u.)", "labels": false, "values": [0.4,0.5,0.6,0.7,0.8,0.9,1,2,3,4,5,6,7,8,9,10,20,30,40,50,60,70,80,90,100,200,300,400,500,600,700,800,900,1000], "tickSize": {"condition": {"test": "datum.value == 1 || datum.value == 10 || datum.value == 100 || datum.value == 1000", "value": 8}, "value": 5}, "titlePadding": 12}},
            "text": {"field": "t"}
          }
        }
      ],
      "resolve": {"axis": {"x": "independent"}}
    }
  ]
}
